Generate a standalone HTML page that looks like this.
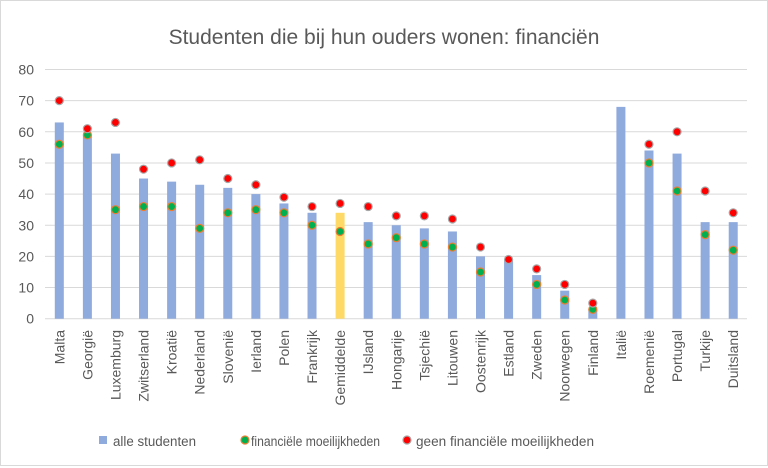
<!DOCTYPE html>
<html><head><meta charset="utf-8"><style>
body{margin:0;background:#fff}
svg{display:block;font-family:"Liberation Sans",sans-serif}
</style></head><body>
<svg width="768" height="468" viewBox="0 0 768 468" xmlns="http://www.w3.org/2000/svg">
<rect x="0.5" y="0.5" width="767" height="465" fill="#fff" stroke="#d9d9d9"/>
<text x="384" y="44" text-anchor="middle" font-size="21" fill="#595959">Studenten die bij hun ouders wonen: financiën</text>
<g id="grid" stroke="#d9d9d9" stroke-width="1"></g>
<g id="yl" font-size="14" fill="#595959" text-anchor="end"></g>
<g id="bars"></g>
<g id="pts"></g>
<g id="xl" font-size="14" fill="#595959"></g>
<g font-size="13.5" fill="#595959">
<rect x="99" y="436" width="8" height="8" fill="#8faadc"/>
<text x="113" y="446" textLength="83" lengthAdjust="spacingAndGlyphs">alle studenten</text>
<circle cx="245" cy="440" r="4" fill="#00b050" stroke="#ed7d31" stroke-width="1.2"/>
<text x="251" y="446" textLength="129" lengthAdjust="spacingAndGlyphs">financiële moeilijkheden</text>
<circle cx="407" cy="440" r="4" fill="#ff0000" stroke="#a6a6a6" stroke-width="1.2"/>
<text x="416" y="446" textLength="178" lengthAdjust="spacingAndGlyphs">geen financiële moeilijkheden</text>
</g>
<script>
var ns="http://www.w3.org/2000/svg";
function el(p,t,a,txt){var e=document.createElementNS(ns,t);for(var k in a)e.setAttribute(k,a[k]);if(txt!=null)e.textContent=txt;document.getElementById(p).appendChild(e);}
var y0=318.7,s=3.115;
for(var v=0;v<=80;v+=10){var y=y0-v*s;el('grid','line',{x1:45,x2:747,y1:y,y2:y});el('yl','text',{x:34,y:y+5},v);}
var n=["Malta","Georgië","Luxemburg","Zwitserland","Kroatië","Nederland","Slovenië","Ierland","Polen","Frankrijk","Gemiddelde","IJsland","Hongarije","Tsjechië","Litouwen","Oostenrijk","Estland","Zweden","Noorwegen","Finland","Italië","Roemenië","Portugal","Turkije","Duitsland"];
var b=[63,59,53,45,44,43,42,40,37,34,34,31,30,29,28,20,19,14,9,3,68,54,53,31,31];
var g=[56,59,35,36,36,29,34,35,34,30,28,24,26,24,23,15,null,11,6,3,null,50,41,27,22];
var r=[70,61,63,48,50,51,45,43,39,36,37,36,33,33,32,23,19,16,11,5,null,56,60,41,34];
for(var i=0;i<25;i++){var x=59.3+i*28.08;
el('bars','rect',{x:x-4.5,y:y0-b[i]*s,width:9,height:b[i]*s,fill:i==10?'#ffd966':'#8faadc'});
if(g[i]!=null)el('pts','circle',{cx:x,cy:y0-g[i]*s,r:4,fill:'#00b050',stroke:'#ed7d31','stroke-width':1.2});
if(r[i]!=null)el('pts','circle',{cx:x,cy:y0-r[i]*s,r:4,fill:'#ff0000',stroke:'#a6a6a6','stroke-width':1.2});
el('xl','text',{x:0,y:0,'text-anchor':'end',transform:'translate('+(x+5)+',330) rotate(-90)'},n[i]);}
</script>
</svg>
</body></html>
